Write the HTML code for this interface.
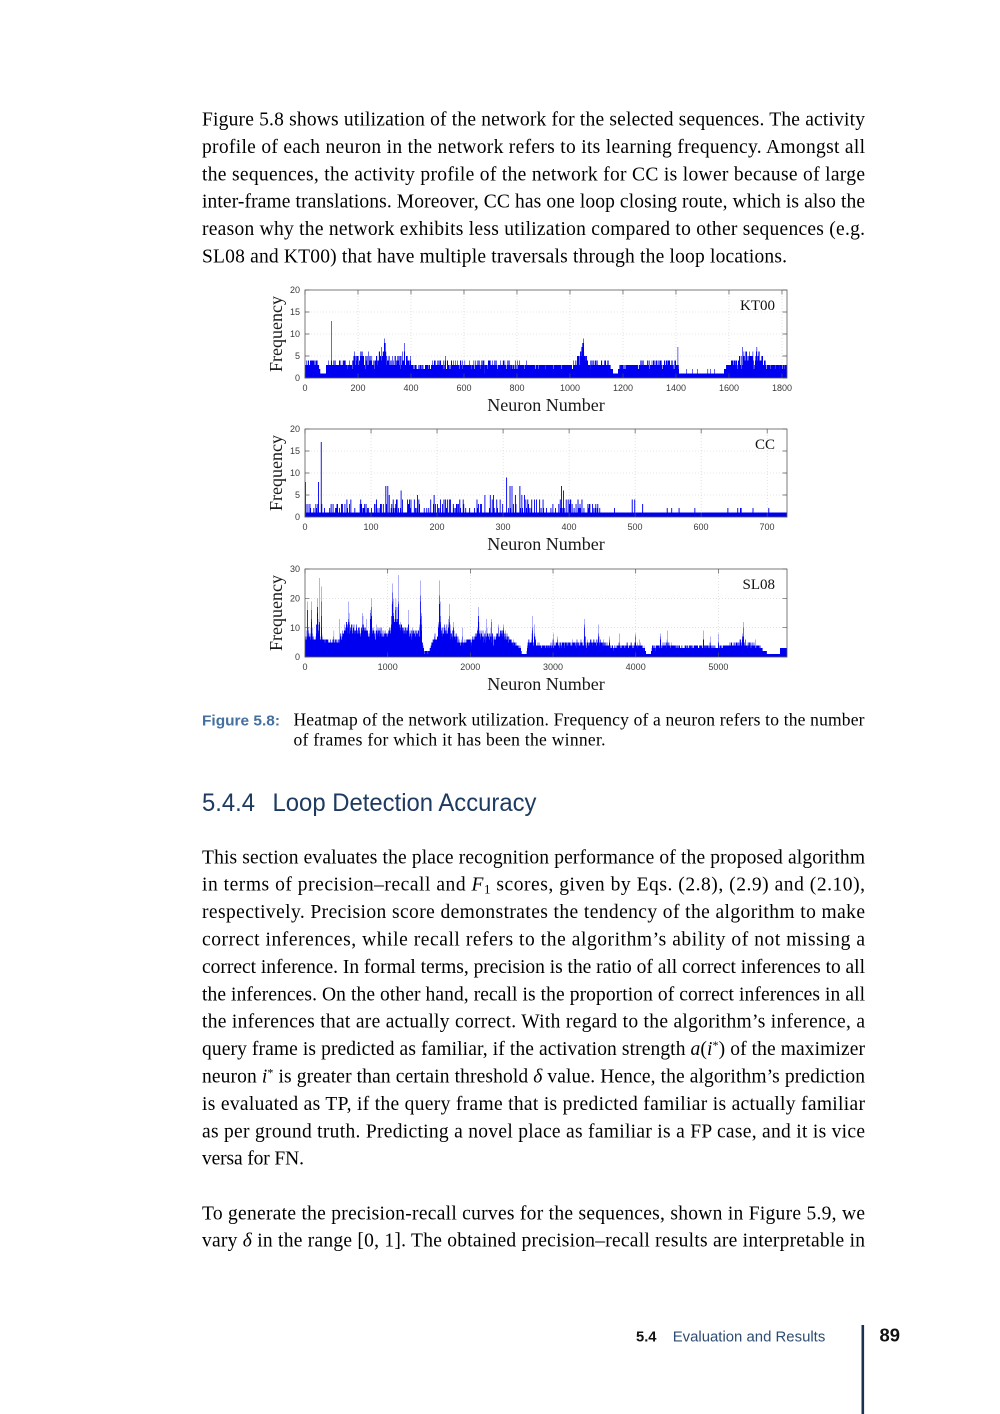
<!DOCTYPE html>
<html>
<head>
<meta charset="utf-8">
<style>
  html,body{margin:0;padding:0;background:#fff;}
  body{width:1000px;height:1414px;overflow:hidden;}
  svg{display:block;}
  .body{font-family:"Liberation Serif",serif;font-size:19.5px;fill:#000;}
  .tick{font-family:"Liberation Sans",sans-serif;font-size:9px;fill:#3a3a3a;}
  .lab{font-family:"Liberation Serif",serif;font-size:18px;fill:#1a1a1a;}
  .leg{font-family:"Liberation Serif",serif;font-size:15px;fill:#111;}
</style>
</head>
<body>
<svg id="pg" xmlns="http://www.w3.org/2000/svg" width="1000" height="1414" viewBox="0 0 1000 1414">
<rect width="1000" height="1414" fill="#fff"/>

<!-- Paragraph 1 -->
<g class="body">
<text x="202" y="125.5" textLength="663" lengthAdjust="spacing">Figure 5.8 shows utilization of the network for the selected sequences. The activity</text>
<text x="202" y="152.9" textLength="663" lengthAdjust="spacing">profile of each neuron in the network refers to its learning frequency. Amongst all</text>
<text x="202" y="180.3" textLength="663" lengthAdjust="spacing">the sequences, the activity profile of the network for CC is lower because of large</text>
<text x="202" y="207.7" textLength="663" lengthAdjust="spacing">inter-frame translations. Moreover, CC has one loop closing route, which is also the</text>
<text x="202" y="235.1" textLength="663" lengthAdjust="spacing">reason why the network exhibits less utilization compared to other sequences (e.g.</text>
<text x="202" y="262.5" textLength="585" lengthAdjust="spacing">SL08 and KT00) that have multiple traversals through the loop locations.</text>
</g>

<!-- Charts -->
<g id="charts"></g>

<!-- Chart 1 labels -->
<g class="tick" text-anchor="end">
<text x="300" y="381.2">0</text><text x="300" y="359.2">5</text><text x="300" y="337.2">10</text><text x="300" y="315.2">15</text><text x="300" y="293.2">20</text>
</g>
<g class="tick" text-anchor="middle">
<text x="305" y="391">0</text><text x="358" y="391">200</text><text x="411" y="391">400</text><text x="464" y="391">600</text><text x="517" y="391">800</text><text x="570" y="391">1000</text><text x="623" y="391">1200</text><text x="676" y="391">1400</text><text x="729" y="391">1600</text><text x="782" y="391">1800</text>
</g>
<text class="lab" x="546" y="411" text-anchor="middle">Neuron Number</text>
<text class="lab" transform="translate(282,334) rotate(-90)" text-anchor="middle">Frequency</text>
<text class="leg" x="775" y="310" text-anchor="end">KT00</text>

<!-- Chart 2 labels -->
<g class="tick" text-anchor="end">
<text x="300" y="520.2">0</text><text x="300" y="498.2">5</text><text x="300" y="476.2">10</text><text x="300" y="454.2">15</text><text x="300" y="432.2">20</text>
</g>
<g class="tick" text-anchor="middle">
<text x="305" y="530">0</text><text x="371" y="530">100</text><text x="437" y="530">200</text><text x="503" y="530">300</text><text x="569" y="530">400</text><text x="635" y="530">500</text><text x="701" y="530">600</text><text x="767" y="530">700</text>
</g>
<text class="lab" x="546" y="550" text-anchor="middle">Neuron Number</text>
<text class="lab" transform="translate(282,473) rotate(-90)" text-anchor="middle">Frequency</text>
<text class="leg" x="775" y="449" text-anchor="end">CC</text>

<!-- Chart 3 labels -->
<g class="tick" text-anchor="end">
<text x="300" y="660.2">0</text><text x="300" y="630.9">10</text><text x="300" y="601.5">20</text><text x="300" y="572.2">30</text>
</g>
<g class="tick" text-anchor="middle">
<text x="305" y="670">0</text><text x="387.7" y="670">1000</text><text x="470.3" y="670">2000</text><text x="553" y="670">3000</text><text x="635.7" y="670">4000</text><text x="718.4" y="670">5000</text>
</g>
<text class="lab" x="546" y="690" text-anchor="middle">Neuron Number</text>
<text class="lab" transform="translate(282,613) rotate(-90)" text-anchor="middle">Frequency</text>
<text class="leg" x="775" y="589" text-anchor="end">SL08</text>

<!-- Caption -->
<text x="202" y="725.7" textLength="78" lengthAdjust="spacingAndGlyphs" font-family="Liberation Sans, sans-serif" font-weight="bold" font-size="15" fill="#44709f">Figure 5.8:</text>
<text x="293.5" y="725.7" textLength="571" lengthAdjust="spacing" font-family="Liberation Serif, serif" font-size="17.5" fill="#000">Heatmap of the network utilization. Frequency of a neuron refers to the number</text>
<text x="293.5" y="745.7" textLength="312" lengthAdjust="spacing" font-family="Liberation Serif, serif" font-size="17.5" fill="#000">of frames for which it has been the winner.</text>

<!-- Heading -->
<g font-family="Liberation Sans, sans-serif" font-size="25" fill="#1d3a60">
<text x="202" y="811" textLength="53" lengthAdjust="spacingAndGlyphs">5.4.4</text>
<text x="272.5" y="811" textLength="264" lengthAdjust="spacingAndGlyphs">Loop Detection Accuracy</text>
</g>

<!-- Paragraph 2 -->
<g class="body">
<text x="202" y="863.3" textLength="663" lengthAdjust="spacing">This section evaluates the place recognition performance of the proposed algorithm</text>
<text x="202" y="890.7" textLength="663" lengthAdjust="spacing">in terms of precision–recall and <tspan font-style="italic">F</tspan><tspan font-size="13" dy="3">1</tspan><tspan dy="-3"> scores, given by Eqs. (2.8), (2.9) and (2.10),</tspan></text>
<text x="202" y="918.1" textLength="663" lengthAdjust="spacing">respectively. Precision score demonstrates the tendency of the algorithm to make</text>
<text x="202" y="945.5" textLength="663" lengthAdjust="spacing">correct inferences, while recall refers to the algorithm’s ability of not missing a</text>
<text x="202" y="972.9" textLength="663" lengthAdjust="spacing">correct inference. In formal terms, precision is the ratio of all correct inferences to all</text>
<text x="202" y="1000.3" textLength="663" lengthAdjust="spacing">the inferences. On the other hand, recall is the proportion of correct inferences in all</text>
<text x="202" y="1027.7" textLength="663" lengthAdjust="spacing">the inferences that are actually correct. With regard to the algorithm’s inference, a</text>
<text x="202" y="1055.1" textLength="663" lengthAdjust="spacing">query frame is predicted as familiar, if the activation strength <tspan font-style="italic">a</tspan>(<tspan font-style="italic">i</tspan><tspan font-size="12" dy="-6">*</tspan><tspan dy="6">) of the maximizer</tspan></text>
<text x="202" y="1082.5" textLength="663" lengthAdjust="spacing">neuron <tspan font-style="italic">i</tspan><tspan font-size="12" dy="-6">*</tspan><tspan dy="6"> is greater than certain threshold </tspan><tspan font-style="italic">δ</tspan> value. Hence, the algorithm’s prediction</text>
<text x="202" y="1109.9" textLength="663" lengthAdjust="spacing">is evaluated as TP, if the query frame that is predicted familiar is actually familiar</text>
<text x="202" y="1137.3" textLength="663" lengthAdjust="spacing">as per ground truth. Predicting a novel place as familiar is a FP case, and it is vice</text>
<text x="202" y="1164.7" textLength="102" lengthAdjust="spacing">versa for FN.</text>
</g>

<!-- Paragraph 3 -->
<g class="body">
<text x="202" y="1219.3" textLength="663" lengthAdjust="spacing">To generate the precision-recall curves for the sequences, shown in Figure 5.9, we</text>
<text x="202" y="1246.7" textLength="663" lengthAdjust="spacing">vary <tspan font-style="italic">δ</tspan> in the range [0, 1]. The obtained precision–recall results are interpretable in</text>
</g>

<!-- Footer -->
<text x="636" y="1341.7" textLength="20.5" lengthAdjust="spacingAndGlyphs" font-family="Liberation Sans, sans-serif" font-weight="bold" font-size="15" fill="#111">5.4</text>
<text x="672.7" y="1341.7" textLength="152.6" lengthAdjust="spacingAndGlyphs" font-family="Liberation Sans, sans-serif" font-size="15" fill="#2d4b72">Evaluation and Results</text>
<rect x="861.5" y="1325" width="2.6" height="89" fill="#1c3152"/>
<text x="879.5" y="1341.7" textLength="20.5" lengthAdjust="spacingAndGlyphs" font-family="Liberation Sans, sans-serif" font-weight="bold" font-size="18.5" fill="#111">89</text>
</svg>

<script>
(function(){
  var NS="http://www.w3.org/2000/svg";
  function rng(a){return function(){a|=0;a=a+0x6D2B79F5|0;var t=Math.imul(a^a>>>15,1|a);t=t+Math.imul(t^t>>>7,61|t)^t;return((t^t>>>14)>>>0)/4294967296;};}
  function lin(p,x){
    if(x<=p[0][0])return p[0][1];
    for(var k=0;k<p.length-1;k++){
      if(x>=p[k][0]&&x<=p[k+1][0]){var d=p[k+1][0]-p[k][0];var t=d?(x-p[k][0])/d:0;return p[k][1]+t*(p[k+1][1]-p[k][1]);}
    }
    return p[p.length-1][1];
  }
  var root=document.getElementById("charts");
  function el(n,attrs){var e=document.createElementNS(NS,n);for(var k in attrs)e.setAttribute(k,attrs[k]);root.appendChild(e);return e;}

  function draw(c){
    var x0=305,x1=787,W=x1-x0,sx=W/c.xmax,sy=(c.bot-c.top)/c.ymax;
    var g="";
    c.xt.forEach(function(t){if(t===0)return;var x=x0+t*sx;g+="M"+x.toFixed(2)+" "+c.top+"V"+c.bot;});
    c.yt.forEach(function(t){if(t===0||t===c.ymax)return;var y=c.bot-t*sy;g+="M"+x0+" "+y.toFixed(2)+"H"+x1;});
    el("path",{d:g,stroke:"#cfcfcf","stroke-width":"0.6","stroke-dasharray":"1 2",fill:"none"});

    // coverage per pixel column per level
    var M=c.ymax, cols=W, cov=[];
    for(var q=0;q<cols;q++)cov.push(new Float32Array(M+1));
    for(var i=0;i<c.v.length;i++){
      var v=c.v[i]; if(v<=0)continue; if(v>M)v=M;
      var a=i*sx,b=(i+1)*sx;
      for(var col=Math.floor(a);col<Math.ceil(b)&&col<cols;col++){
        var ov=Math.min(b,col+1)-Math.max(a,col); if(ov<=0)continue;
        var arr=cov[col]; for(var k=1;k<=v;k++)arr[k]+=ov;
      }
    }
    var paths={};
    for(var col=0;col<cols;col++){
      var arr=cov[col], k=1;
      while(k<=M){
        var qv=Math.round(Math.min(1,arr[k]*c.gain)*20);
        var k2=k; while(k2+1<=M && Math.round(Math.min(1,arr[k2+1]*c.gain)*20)===qv)k2++;
        if(qv>0){
          var yT=c.bot-k2*sy, yB=c.bot-(k-1)*sy;
          paths[qv]=(paths[qv]||"")+"M"+(x0+col)+" "+yB.toFixed(2)+"V"+yT.toFixed(2)+"h1V"+yB.toFixed(2)+"z";
        }
        k=k2+1;
      }
    }
    Object.keys(paths).forEach(function(qv){
      el("path",{d:paths[qv],fill:"#0000f0","fill-opacity":(qv/20).toFixed(2),"shape-rendering":"crispEdges"});
    });

    var tk="",L=4.5;
    c.xt.forEach(function(t){var x=(x0+t*sx).toFixed(2);tk+="M"+x+" "+c.bot+"v-"+L+"M"+x+" "+c.top+"v"+L;});
    c.yt.forEach(function(t){var y=(c.bot-t*sy).toFixed(2);tk+="M"+x0+" "+y+"h"+L+"M"+x1+" "+y+"h-"+L;});
    el("path",{d:tk,stroke:"#555","stroke-width":"0.7",fill:"none"});
    el("rect",{x:x0,y:c.top,width:W,height:c.bot-c.top,fill:"none",stroke:"#5a5a5a","stroke-width":"0.8"});
  }

  // ---- KT00 ----
  (function(){
    var r=rng(11),n=1819,v=[];
    var base=[[0,1],[8,2],[55,2],[58,1],[80,1],[84,2],[670,2],[675,1],[690,1],[695,2],[850,2],[852,1],[860,1],[863,2],[1160,2],[1162,1],[1180,1],[1183,2],[1290,2],[1292,1],[1300,1],[1303,2],[1408,2],[1412,1],[1580,1],[1585,2],[1819,2]];
    var hi=[[0,4],[20,5],[50,4],[58,1],[78,1],[82,4],[100,4],[180,4],[185,6],[260,5],[280,6],[300,8],[312,5],[340,5],[372,7],[398,5],[410,3],[478,3],[485,4],[560,4],[700,4],[850,3.5],[1000,3.5],[1030,5],[1050,8],[1060,5],[1070,4],[1150,4],[1160,1],[1180,1],[1185,3],[1250,3],[1260,4],[1400,4],[1412,1],[1580,1],[1590,3.5],[1630,4.5],[1650,6.5],[1720,6],[1740,3.5],[1819,3]];
    for(var i=0;i<n;i++){var b=lin(base,i),h=lin(hi,i);v.push(Math.round(b+(h-b)*Math.pow(r(),1.2)));}
    [[100,13],[1407,7],[1650,7],[1705,7],[530,5],[1050,9],[300,9],[375,8],[1440,2],[1480,2],[1520,2],[1530,2],[1545,2],[1462,2],[1048,8],[302,8],[185,6],[213,6],[240,6],[1410,3]].forEach(function(s){v[s[0]]=s[1];});
    draw({v:v,xmax:1819,ymax:20,top:290,bot:378,gain:2.3,xt:[0,200,400,600,800,1000,1200,1400,1600,1800],yt:[0,5,10,15,20]});
  })();

  // ---- CC ----
  (function(){
    var r=rng(23),n=730,v=[];
    for(var i=0;i<n;i++){
      var val=1;
      if(i<450){ if(r()<0.3) val=1+Math.round(1+2*Math.pow(r(),2)); }
      else { if(r()<0.02) val=2; }
      v.push(val);
    }
    [[0,8],[1,3],[20,8],[24,17],[25,3],[48,3],[55,3],[60,3],[63,4],[85,3],[90,3],[108,4],[122,7],[125,7],[127,5],[133,4],[145,6],[147,4],[155,4],[170,5],[172,4],[190,4],[195,5],[200,3],[205,4],[210,4],[218,4],[220,4],[260,4],[265,3],[272,5],[280,5],[285,5],[290,4],[295,4],[305,9],[310,7],[313,7],[318,5],[325,7],[328,5],[332,5],[343,4],[355,4],[360,4],[375,3],[388,7],[391,6],[395,4],[398,4],[402,4],[410,3],[435,3],[440,3],[443,3],[468,2],[495,4],[499,4],[511,3],[548,2],[566,2],[590,2],[640,2],[655,2],[660,2],[678,2],[702,2]].forEach(function(s){v[s[0]]=s[1];});
    draw({v:v,xmax:730,ymax:20,top:429,bot:517,gain:1.4,xt:[0,100,200,300,400,500,600,700],yt:[0,5,10,15,20]});
  })();

  // ---- SL08 ----
  (function(){
    var r=rng(5),n=5830,v=[];
    var base=[[0,3],[100,4],[300,4],[350,3],[400,3],[500,5],[900,5],[1000,4],[1100,6],[1200,5],[1400,4],[1440,1],[1500,1],[1550,3],[1700,4],[1850,2],[2000,3],[2500,3],[2600,2],[2620,1],[2680,1],[2700,3],[2900,2],[4100,2],[4130,1],[4180,1],[4200,2],[5500,2],[5600,1],[5750,1],[5755,3],[5830,3]];
    var hi=[[0,8],[300,6],[400,6],[500,12],[700,10],[900,10],[1000,9],[1100,15],[1200,10],[1400,9],[1440,2],[1500,2],[1550,7],[1700,12],[1800,9],[1900,6],[2000,6],[2100,10],[2200,9],[2300,8],[2400,10],[2500,6],[2600,4],[2620,1],[2680,1],[2700,6],[2800,5],[2900,4],[3000,5],[3400,6],[3600,6],[3700,4],[4000,5],[4100,4],[4130,1],[4180,1],[4200,4],[4400,5],[4500,4],[5000,4],[5300,6],[5500,4],[5600,1],[5750,1],[5755,3],[5830,3]];
    var pk=[[30,19,15],[80,19,15],[150,20,25],[175,27,10],[200,24,8],[350,9,10],[420,13,10],[530,19,30],[620,11,20],[700,15,25],[740,13,10],[800,20,15],[860,11,15],[920,10,15],[1060,25,30],[1100,20,30],[1130,28,15],[1250,16,10],[1300,10,10],[1400,26,15],[1630,26,25],[1750,18,30],[1800,12,15],[1900,10,10],[2100,17,20],[2200,13,20],[2250,13,15],[2340,11,15],[2400,11,30],[2750,14,10],[2780,11,15],[3000,8,10],[3050,7,10],[3380,13,15],[3550,11,15],[3680,7,10],[3800,8,10],[4000,8,10],[4050,6,10],[4300,8,10],[4380,9,10],[4820,9,10],[4900,7,10],[5000,8,10],[5300,12,20],[5450,6,10]];
    for(var i=0;i<n;i++){
      var b=lin(base,i),h=lin(hi,i);
      for(var k=0;k<pk.length;k++){var d=Math.abs(i-pk[k][0]);if(d<pk[k][2]){h=Math.max(h,b+(pk[k][1]-b)*(1-d/pk[k][2]));}}
      v.push(Math.round(b+(h-b)*Math.pow(r(),1.4)));
    }
    pk.forEach(function(p){v[p[0]]=p[1];});
    draw({v:v,xmax:5830,ymax:30,top:569,bot:657,gain:3.5,xt:[0,1000,2000,3000,4000,5000],yt:[0,10,20,30]});
  })();
})();
</script>
</body>
</html>
